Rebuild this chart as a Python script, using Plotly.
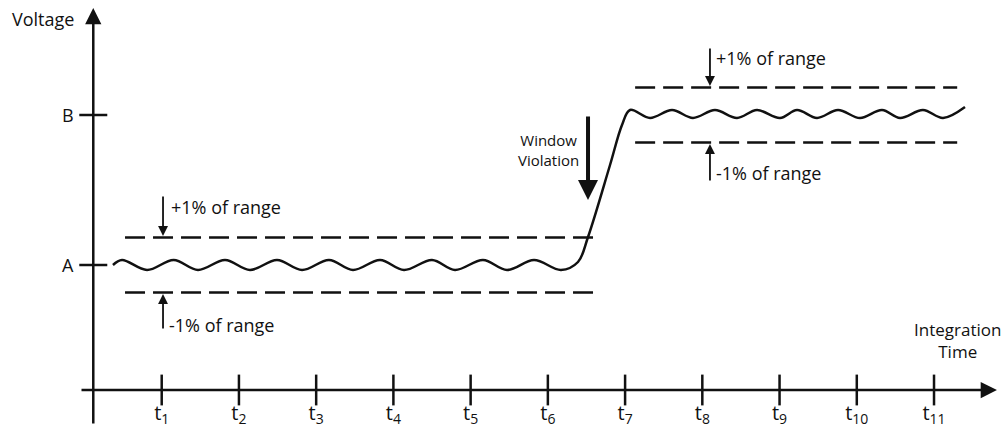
import plotly.graph_objects as go

# 时间刻度
tick_pos = [1, 2, 3, 4, 5, 6, 7, 8, 9, 10, 11]
tick_labels = ["t<sub>%d</sub>" % i for i in tick_pos]

# 电压电平
level_names = ["A", "B"]
level_vals = [1.0, 2.2]
band_half = 0.22

# 窗口范围（±1% of range）
band_a_x = [0.525, 6.61]
band_b_x = [7.13, 11.30]

# 读数曲线（波峰/波谷点）
wave_x = [0.369, 0.486, 0.810, 1.155, 1.470, 1.820, 2.143, 2.493, 2.817, 3.166,
          3.477, 3.827, 4.137, 4.500, 4.798, 5.160, 5.471, 5.821, 6.170, 6.390,
          6.520, 6.805, 6.960, 7.064, 7.323, 7.608, 7.879, 8.164, 8.449, 8.708,
          9.006, 9.226, 9.485, 9.757, 10.042, 10.327, 10.560, 10.857, 11.117, 11.401]
wave_y = [1.000, 1.040, 0.960, 1.040, 0.960, 1.040, 0.960, 1.040, 0.960, 1.040,
          0.960, 1.040, 0.960, 1.040, 0.960, 1.040, 0.960, 1.040, 0.960, 1.024,
          1.224, 1.800, 2.120, 2.240, 2.176, 2.240, 2.176, 2.240, 2.176, 2.240,
          2.176, 2.240, 2.176, 2.240, 2.176, 2.240, 2.176, 2.240, 2.176, 2.264]

INK = "#111111"
FONT = "Open Sans"

fig = go.Figure()

# 曲线
fig.add_trace(go.Scatter(
    x=wave_x, y=wave_y, mode="lines",
    line=dict(color=INK, width=2.5, shape="spline", smoothing=1.0),
    hoverinfo="skip",
))

# 虚线窗口
for xs, lv in [(band_a_x, level_vals[0]), (band_b_x, level_vals[1])]:
    for sgn in (1, -1):
        fig.add_trace(go.Scatter(
            x=xs, y=[lv + sgn * band_half] * 2, mode="lines",
            line=dict(color=INK, width=2.5, dash="20px,8px"),
            hoverinfo="skip",
        ))

# x 轴刻度
fig.add_trace(go.Scatter(
    x=tick_pos, y=[0] * len(tick_pos), mode="markers",
    marker=dict(symbol="line-ns", size=22, line=dict(color=INK, width=2.5)),
    hoverinfo="skip",
))
fig.add_trace(go.Scatter(
    x=tick_pos, y=[-0.2] * len(tick_pos), mode="text",
    text=tick_labels, textfont=dict(family=FONT, size=20, color=INK),
    hoverinfo="skip",
))

# y 轴刻度
fig.add_trace(go.Scatter(
    x=[0.114] * len(level_vals), y=level_vals, mode="markers",
    marker=dict(symbol="line-ew", size=20, line=dict(color=INK, width=2.5)),
    hoverinfo="skip",
))
for name, lv in zip(level_names, level_vals):
    fig.add_annotation(x=-0.11, y=lv, text=name, showarrow=False, xanchor="right",
                       font=dict(family=FONT, size=18, color=INK))


def arrow(x0, y0, x1, y1, width=2.0, size=1.2):
    # 从 (x0, y0) 指向 (x1, y1)
    fig.add_annotation(x=x1, y=y1, ax=x0, ay=y0, xref="x", yref="y", axref="x", ayref="y",
                       text="", showarrow=True, arrowhead=2, arrowsize=size,
                       arrowwidth=width, arrowcolor=INK, standoff=0, startstandoff=0)


# 坐标轴
arrow(0.114, -0.28, 0.114, 3.056, width=2.5, size=1.3)
arrow(-0.058, 0.0, 11.815, 0.0, width=2.5, size=1.3)

# ±1% 标注
arrow(1.017, 1.56, 1.017, 1.232, width=1.8, size=1.1)
arrow(1.017, 0.48, 1.017, 0.768, width=1.8, size=1.1)
arrow(8.099, 2.744, 8.099, 2.432, width=1.8, size=1.1)
arrow(8.099, 1.664, 8.099, 1.968, width=1.8, size=1.1)

txt = dict(family=FONT, size=18, color=INK)
fig.add_annotation(x=1.09, y=1.464, text="+1% of range", showarrow=False, xanchor="left", font=txt)
fig.add_annotation(x=1.07, y=0.52, text="-1% of range", showarrow=False, xanchor="left", font=txt)
fig.add_annotation(x=8.15, y=2.656, text="+1% of range", showarrow=False, xanchor="left", font=txt)
fig.add_annotation(x=8.15, y=1.736, text="-1% of range", showarrow=False, xanchor="left", font=txt)

# Window Violation
arrow(6.52, 2.2, 6.52, 1.52, width=4, size=1.0)
fig.add_annotation(x=6.014, y=1.92, text="Window<br>Violation", showarrow=False,
                   align="center", font=dict(family=FONT, size=15, color=INK))

# 轴标题
fig.add_annotation(x=-0.537, y=2.968, text="Voltage", showarrow=False, font=txt)
fig.add_annotation(x=11.298, y=0.40, text="Integration<br>Time", showarrow=False,
                   align="center", font=dict(family=FONT, size=17, color=INK))

fig.update_layout(
    width=1007, height=434,
    margin=dict(l=0, r=0, t=0, b=0),
    plot_bgcolor="white", paper_bgcolor="white",
    showlegend=False,
    xaxis=dict(range=[-1.0938, 11.945], visible=False, fixedrange=True),
    yaxis=dict(range=[-0.352, 3.12], visible=False, fixedrange=True),
)

# 去掉页面默认 8px 边距
fig.write_html("out.html", config={"displayModeBar": False},
               post_script="document.body.style.margin='0';")
